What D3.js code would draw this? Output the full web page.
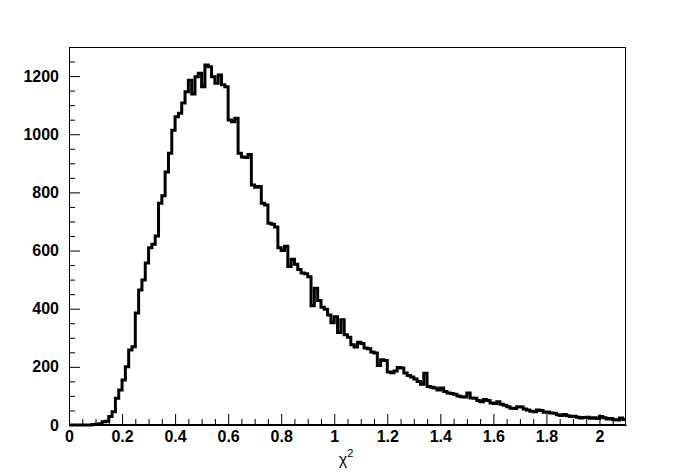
<!DOCTYPE html>
<html>
<head>
<meta charset="utf-8">
<script src="https://cdn.jsdelivr.net/npm/d3@7"></script>
<style>
  html, body { margin: 0; padding: 0; background: #ffffff; }
  svg { display: block; }
</style>
</head>
<body>
<div id="chart"></div>
<script>
// ---------- data ----------
const binWidth = 0.0125;           // histogram bin width in chi^2
const xRange = [0, 2.1];
const yRange = [0, 1300];
const counts = [
  0, 0, 0, 0, 0, 0, 0, 2, 3, 4,
  11, 13, 29, 46, 92, 120, 155, 200, 258, 269,
  385, 464, 499, 557, 610, 622, 650, 763, 788, 870,
  935, 1014, 1060, 1072, 1107, 1146, 1186, 1138, 1198, 1210,
  1163, 1238, 1232, 1198, 1175, 1204, 1170, 1163, 1049, 1043,
  1055, 935, 922, 920, 930, 825, 818, 820, 763, 757,
  694, 690, 681, 610, 600, 615, 545, 570, 553, 535,
  523, 520, 510, 410, 470, 428, 405, 398, 378, 352,
  372, 318, 362, 310, 302, 276, 268, 285, 280, 265,
  262, 251, 248, 205, 224, 222, 182, 180, 186, 198,
  196, 179, 170, 165, 158, 150, 140, 178, 132, 130,
  127, 120, 127, 115, 110, 108, 106, 100, 97, 96,
  110, 93, 92, 84, 80, 88, 84, 76, 74, 80,
  71, 68, 63, 58, 57, 63, 62, 55, 52, 47,
  46, 52, 50, 44, 45, 41, 40, 35, 33, 36,
  32, 29, 30, 27, 24, 26, 27, 23, 25, 22,
  29, 25, 21, 22, 18, 17, 24, 19
];
const xMajorTicks = [0, 0.2, 0.4, 0.6, 0.8, 1.0, 1.2, 1.4, 1.6, 1.8, 2.0];
const xMajorLabels = ["0", "0.2", "0.4", "0.6", "0.8", "1", "1.2", "1.4", "1.6", "1.8", "2"];
const xMinorTicks = [0.05, 0.1, 0.15, 0.25, 0.3, 0.35, 0.45, 0.5, 0.55, 0.65, 0.7, 0.75,
  0.85, 0.9, 0.95, 1.05, 1.1, 1.15, 1.25, 1.3, 1.35, 1.45, 1.5, 1.55, 1.65, 1.7, 1.75,
  1.85, 1.9, 1.95, 2.05];
const yMajorTicks = [0, 200, 400, 600, 800, 1000, 1200];
const yMajorLabels = ["0", "200", "400", "600", "800", "1000", "1200"];
const yMinorTicks = [50, 100, 150, 250, 300, 350, 450, 500, 550, 650, 700, 750,
  850, 900, 950, 1050, 1100, 1150, 1250];
const xTitle = "χ";
const xTitleSup = "2";

// ---------- layout ----------
const W = 696, H = 472;
const frame = { left: 69, right: 626, top: 47, bottom: 425 };

const svg = d3.select("#chart").append("svg")
  .attr("width", W).attr("height", H);

svg.append("rect").attr("width", W).attr("height", H).attr("fill", "#ffffff");

const x = d3.scaleLinear().domain(xRange).range([frame.left, frame.right]);
const y = d3.scaleLinear().domain(yRange).range([frame.bottom, frame.top]);

// frame
svg.append("rect")
  .attr("x", frame.left + 0.5).attr("y", frame.top + 0.5)
  .attr("width", frame.right - frame.left - 1)
  .attr("height", frame.bottom - frame.top - 1)
  .attr("fill", "none").attr("stroke", "#000").attr("stroke-width", 1);

// histogram step line
const pts = counts.map((c, i) => [i * binWidth, c]);
pts.push([counts.length * binWidth, counts[counts.length - 1]]);
const line = d3.line()
  .x(d => x(d[0]))
  .y(d => y(d[1]))
  .curve(d3.curveStepAfter);

svg.append("defs").append("clipPath").attr("id", "clip")
  .append("rect")
  .attr("x", frame.left).attr("y", frame.top)
  .attr("width", frame.right - frame.left).attr("height", frame.bottom - frame.top + 2);

svg.append("path")
  .datum(pts)
  .attr("clip-path", "url(#clip)")
  .attr("d", line)
  .attr("fill", "none")
  .attr("stroke", "#000")
  .attr("stroke-width", 3)
  .attr("stroke-linejoin", "miter");

// axes
const fontFam = "'Liberation Sans', Arial, Helvetica, sans-serif";

const xAxisMajor = d3.axisBottom(x)
  .tickValues(xMajorTicks)
  .tickFormat((d, i) => xMajorLabels[i])
  .tickSizeInner(-11).tickSizeOuter(0).tickPadding(6);
const xAxisMinor = d3.axisBottom(x)
  .tickValues(xMinorTicks).tickFormat("")
  .tickSizeInner(-6).tickSizeOuter(0);

const gx = svg.append("g").attr("transform", `translate(0,${frame.bottom})`);
gx.append("g").call(xAxisMinor);
gx.append("g").call(xAxisMajor);

const yAxisMajor = d3.axisLeft(y)
  .tickValues(yMajorTicks)
  .tickFormat((d, i) => yMajorLabels[i])
  .tickSizeInner(-11).tickSizeOuter(0).tickPadding(10);
const yAxisMinor = d3.axisLeft(y)
  .tickValues(yMinorTicks).tickFormat("")
  .tickSizeInner(-6).tickSizeOuter(0);

const gy = svg.append("g").attr("transform", `translate(${frame.left},0)`);
gy.append("g").call(yAxisMinor);
gy.append("g").call(yAxisMajor);

svg.selectAll(".domain").attr("stroke", "#000").attr("stroke-width", 1);
svg.selectAll(".tick line").attr("stroke", "#000").attr("stroke-width", 1);
svg.selectAll(".tick text")
  .attr("fill", "#000")
  .style("font-family", fontFam)
  .style("font-weight", "bold")
  .style("font-size", "16px");

// x title
const t = svg.append("text")
  .attr("x", 346).attr("y", 465)
  .attr("text-anchor", "middle")
  .style("font-family", fontFam)
  .style("font-size", "16px")
  .attr("fill", "#000");
t.append("tspan").text(xTitle);
t.append("tspan").attr("dy", -8).style("font-size", "11px").text(xTitleSup);
</script>
</body>
</html>
